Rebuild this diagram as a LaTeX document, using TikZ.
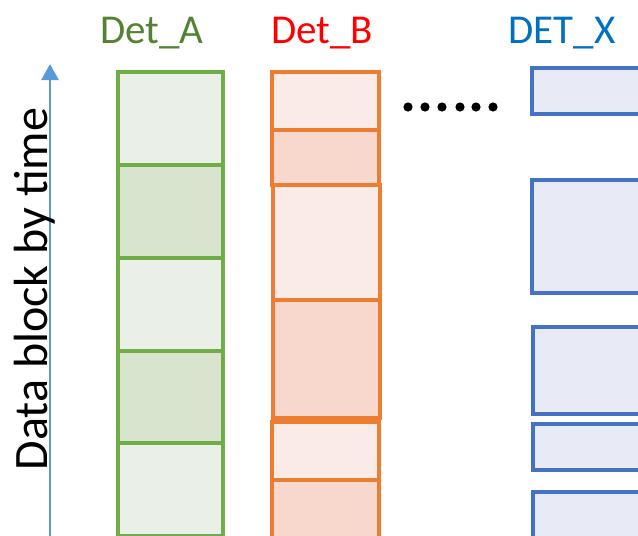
\documentclass[tikz,border=0pt]{standalone}
\usepackage{fontspec}
\setmainfont{Carlito}
\usepackage{tikz}
\usetikzlibrary{arrows.meta}

\definecolor{lineA}{RGB}{112,173,71}
\definecolor{lightA}{RGB}{234,239,231}
\definecolor{darkA}{RGB}{216,228,205}
\definecolor{lineB}{RGB}{237,125,49}
\definecolor{lightB}{RGB}{251,235,230}
\definecolor{darkB}{RGB}{248,216,204}
\definecolor{lineX}{RGB}{68,114,196}
\definecolor{fillX}{RGB}{232,235,245}
\definecolor{axis}{RGB}{91,155,213}
\definecolor{titleA}{RGB}{84,130,53}
\definecolor{titleX}{RGB}{0,112,192}

\tikzset{
	blkA/.style={draw=lineA,line width=3.2pt},
	blkB/.style={draw=lineB,line width=3.2pt},
	blkX/.style={draw=lineX,fill=fillX,line width=3.2pt},
	title/.style={anchor=base,inner sep=0pt,font=\fontsize{41}{41}\selectfont}
}

\begin{document}
\begin{tikzpicture}[x=1pt,y=-1pt]
		\useasboundingbox (0,0) rectangle (638,536);
		\clip (0,0) rectangle (638,536);
		% time axis
		\coordinate (tbot) at (50,540);
		\coordinate (ttop) at (50,64);
		\draw[axis,line width=2.8pt,-{Triangle[width=17pt,length=16pt]}] (tbot) -- (ttop);
		\node[anchor=base,rotate=90,inner sep=0pt,font=\fontsize{48}{48}\selectfont] (tlabel) at (47,289) {Data block by time};
		% Det_A: equal blocks
		\foreach \y/\c in {72/lightA,165/darkA,258/lightA,351/darkA,443/lightA}
			\draw[blkA,fill=\c] (118,\y) rectangle (223,\y+93);
		% Det_B: blocks of varying length
		\draw[blkB,fill=lightB] (272,72) rectangle (379,130);
		\draw[blkB,fill=darkB] (272,130) rectangle (379,185);
		\draw[blkB,fill=lightB] (273,185) rectangle (380,300);
		\draw[blkB,fill=darkB] (273,300) rectangle (380,418);
		\draw[blkB,fill=lightB] (272,422) rectangle (379,480);
		\draw[blkB,fill=darkB] (272,480) rectangle (379,545);
		% DET_X: blocks with gaps
		\draw[blkX] (532,68) rectangle (650,114);
		\draw[blkX] (532,180) rectangle (650,293);
		\draw[blkX] (533,327) rectangle (650,414);
		\draw[blkX] (533,424) rectangle (650,470);
		\draw[blkX] (533,492) rectangle (650,550);
		% dots
		\foreach \x in {408,425,442,460,476,493}
			\fill (\x,107) circle(4.6pt);
		% titles
		\node[title,text=titleA] (detA) at (152,43) {Det\_A};
		\node[title,text=red] (detB) at (322,43) {Det\_B};
		\node[title,text=titleX] (detX) at (562,43) {DET\_X};
\end{tikzpicture}
\end{document}
